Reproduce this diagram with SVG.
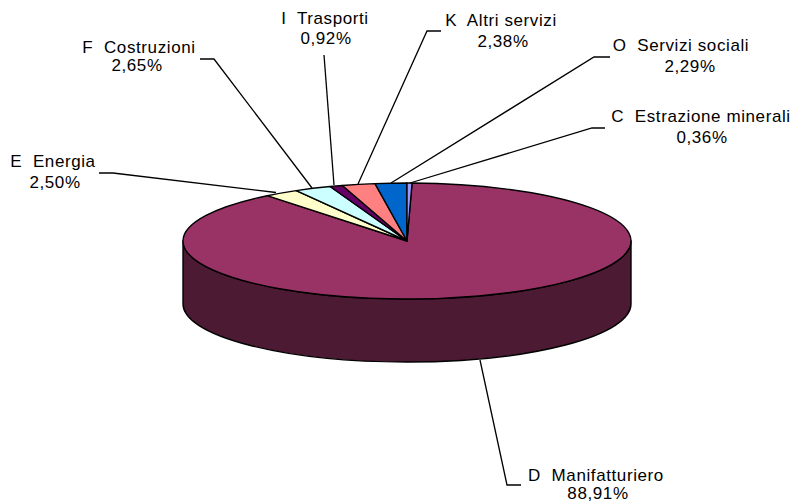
<svg xmlns="http://www.w3.org/2000/svg" width="795" height="504" viewBox="0 0 795 504">
<style>
.s{stroke:#000;stroke-width:1.4;stroke-linejoin:round}
.ld{fill:none;stroke:#000;stroke-width:1.3}
text{font-family:"Liberation Sans",Arial,sans-serif;font-size:17px;fill:#000;text-anchor:middle;letter-spacing:0.6px;white-space:pre}
</style>
<rect width="795" height="504" fill="#fff"/>
<g id="pie">
<path id="side" class="s" fill="#4C1A33" d="M183,241 L183,304 A224,58 0 0 0 631,304 L631,241 A224,58 0 0 1 183,241 Z"/>
<path id="slice-D" class="s" fill="#993366" d="M407,241 L412.07,183.02 A224,58 0 1 1 267.18,195.69 Z"/>
<path id="slice-E" class="s" fill="#FFFFCC" d="M407,241 L267.18,195.69 A224,58 0 0 1 296.26,190.58 Z"/>
<path id="slice-F" class="s" fill="#CCFFFF" d="M407,241 L296.26,190.58 A224,58 0 0 1 330.07,186.53 Z"/>
<path id="slice-I" class="s" fill="#660066" d="M407,241 L330.07,186.53 A224,58 0 0 1 342.34,185.47 Z"/>
<path id="slice-K" class="s" fill="#FF8080" d="M407,241 L342.34,185.47 A224,58 0 0 1 375.02,183.59 Z"/>
<path id="slice-O" class="s" fill="#0066CC" d="M407,241 L375.02,183.59 A224,58 0 0 1 407,183 Z"/>
<path id="slice-C" class="s" fill="#9999FF" d="M407,241 L407,183 A224,58 0 0 1 412.07,183.02 Z"/>
</g>
<g id="connectors">
<polyline class="ld" points="99,173 113,173 276,192.5"/>
<polyline class="ld" points="200,59 214,59 312,188"/>
<polyline class="ld" points="324,55 334,185"/>
<polyline class="ld" points="441,31 427,31 358,184"/>
<polyline class="ld" points="610,57 594,57 391,183"/>
<polyline class="ld" points="605,128 592,128 410,183"/>
<polyline class="ld" points="480,360 507,485 521,485"/>
</g>
<g id="label-E"><text x="53" y="167">E  Energia</text><text x="55" y="188">2,50%</text></g>
<g id="label-F"><text x="139" y="53">F  Costruzioni</text><text x="137" y="71">2,65%</text></g>
<g id="label-I"><text x="325" y="24">I  Trasporti</text><text x="326" y="44">0,92%</text></g>
<g id="label-K"><text x="501" y="26">K  Altri servizi</text><text x="503" y="47">2,38%</text></g>
<g id="label-O"><text x="681" y="51">O  Servizi sociali</text><text x="690" y="72">2,29%</text></g>
<g id="label-C"><text x="701" y="122">C  Estrazione minerali</text><text x="702" y="143">0,36%</text></g>
<g id="label-D"><text x="596" y="481">D  Manifatturiero</text><text x="598" y="499">88,91%</text></g>
</svg>
